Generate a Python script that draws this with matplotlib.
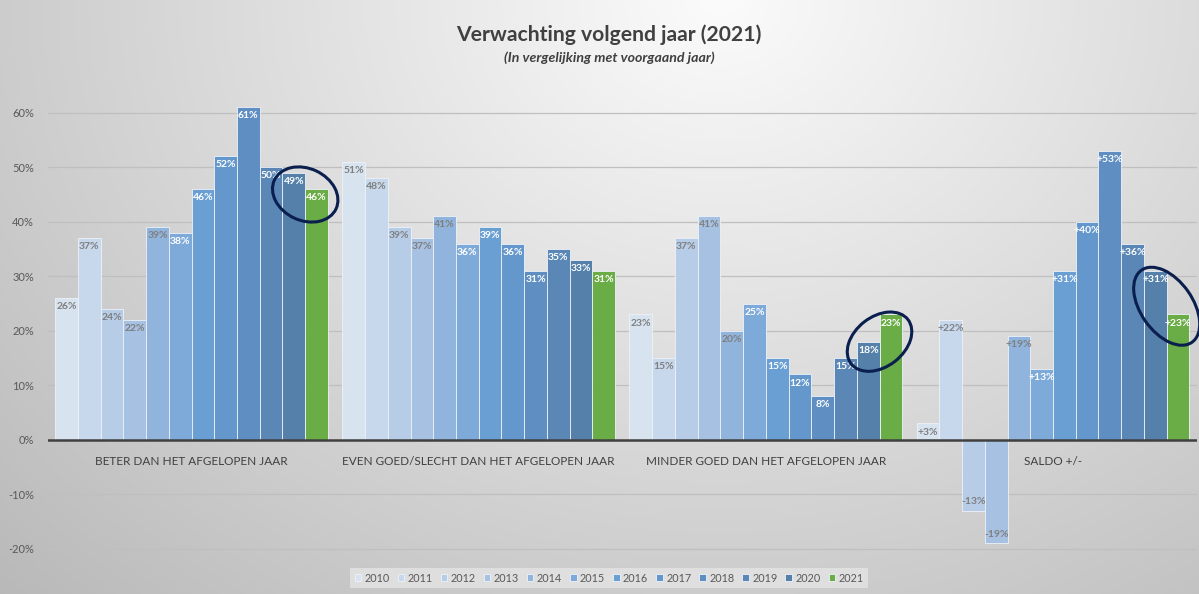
import numpy as np
import matplotlib.pyplot as plt
from matplotlib.patches import Ellipse
from matplotlib.transforms import IdentityTransform

plt.rcParams['font.family'] = ['Lato', 'DejaVu Sans']

# data (percentages)
years = ['2010', '2011', '2012', '2013', '2014', '2015',
         '2016', '2017', '2018', '2019', '2020', '2021']
categories = ['BETER DAN HET AFGELOPEN JAAR',
              'EVEN GOED/SLECHT DAN HET AFGELOPEN JAAR',
              'MINDER GOED DAN HET AFGELOPEN JAAR',
              'SALDO +/-']
beter = [26, 37, 24, 22, 39, 38, 46, 52, 61, 50, 49, 46]
even = [51, 48, 39, 37, 41, 36, 39, 36, 31, 35, 33, 31]
minder = [23, 15, 37, 41, 20, 25, 15, 12, 8, 15, 18, 23]
saldo = [3, 22, -13, -19, 19, 13, 31, 40, 53, 36, 31, 23]
yticks = [-0.2, -0.1, 0, 0.1, 0.2, 0.3, 0.4, 0.5, 0.6]

colors = ['#d8e3f0', '#c8d8ec', '#b7cce7', '#a7c1e2', '#91b4dd', '#7eaad9',
          '#6a9fd4', '#6498cc', '#5f8fc2', '#5a87b6', '#5480aa', '#6aac46']
label_colors = ['#7f7f7f'] * 5 + ['white'] * 7

fig = plt.figure(figsize=(11.99, 5.94), dpi=100)

# background gradient
bg = fig.add_axes([0, 0, 1, 1], zorder=-10)
gx, gy = np.meshgrid(np.linspace(0, 1, 600), np.linspace(0, 1, 300))
dist = np.sqrt(((gx - 0.6) / 0.75) ** 2 + (gy / 1.25) ** 2)
shade = np.clip(0.985 - 0.23 * dist, 0.72, 1)
bg.imshow(np.dstack([shade] * 3), aspect='auto', extent=[0, 1, 0, 1], origin='upper')
bg.axis('off')

ax = fig.add_axes([0.040, 0.0623, 0.958, 0.803])
ax.set_facecolor('none')

w = 0.95 / 12
x = np.arange(len(categories))
for i, year in enumerate(years):
    vals = [beter[i], even[i], minder[i], saldo[i]]
    xs = x + (i - 5.5) * w
    ax.bar(xs, np.array(vals) / 100, w, color=colors[i], edgecolor='#eef2f8',
           linewidth=0.6, label=year, zorder=3)
    for j, v in enumerate(vals):
        txt = f'{v}%'
        if j == 3 and v > 0:
            txt = f'+{v}%'
        if v >= 0:
            ax.annotate(txt, (xs[j], v / 100), xytext=(0, -3), textcoords='offset points',
                        ha='center', va='top', fontsize=7.5, fontweight='bold',
                        color=label_colors[i], zorder=4)
        else:
            ax.annotate(txt, (xs[j], v / 100), xytext=(0, 3), textcoords='offset points',
                        ha='center', va='bottom', fontsize=7.5, fontweight='bold',
                        color=label_colors[i], zorder=4)

ax.set_xlim(-0.5, 3.5)
ax.set_ylim(-0.215, 0.66)
ax.set_yticks(yticks)
ax.set_yticklabels([f'{int(round(t * 100))}%' for t in yticks])
ax.tick_params(axis='y', length=0, pad=10, labelsize=8, labelcolor='#595959')
ax.set_xticks([])
ax.grid(axis='y', color='#bfbfbf', linewidth=0.9, zorder=0)
ax.axhline(0, color='#404040', linewidth=1.8, zorder=5)
for s in ax.spines.values():
    s.set_visible(False)

for j, cat in enumerate(categories):
    ax.text(x[j], -0.04, cat, ha='center', va='center', fontsize=8.5, color='#404040')

# circles around the last two years
fig.canvas.draw()
for j, ew, eh, ang in [(0, 68, 52, -25), (2, 72, 50, 38), (3, 88, 52, -55)]:
    vals = [beter, even, minder, saldo][j]
    xc = x[j] + 5.0 * w
    yc = (vals[10] + vals[11]) / 200 - 0.025
    px, py = ax.transData.transform((xc, yc))
    fig.patches.append(Ellipse((px, py), ew, eh, angle=ang, fill=False,
                               edgecolor='#0b1f4e', linewidth=2.2,
                               transform=IdentityTransform(), zorder=10))

fig.text(0.508, 1 - 35 / 594, 'Verwachting volgend jaar (2021)', ha='center', va='center',
         fontsize=15.2, fontweight='bold', color='#404040')
fig.text(0.508, 1 - 58 / 594, '(In vergelijking met voorgaand jaar)', ha='center', va='center',
         fontsize=10.2, fontweight='bold', style='italic', color='#404040')

leg = fig.legend(loc='center', bbox_to_anchor=(0.508, 1 - 578 / 594), ncol=12,
                 fontsize=7.8, handlelength=0.6, handleheight=0.6, handletextpad=0.3,
                 columnspacing=0.75, frameon=True, fancybox=False, borderpad=0.4)
leg.get_frame().set_facecolor('#e4e4e4')
leg.get_frame().set_edgecolor('none')
for t in leg.get_texts():
    t.set_color('#595959')

fig.savefig('out.png', dpi=100)
